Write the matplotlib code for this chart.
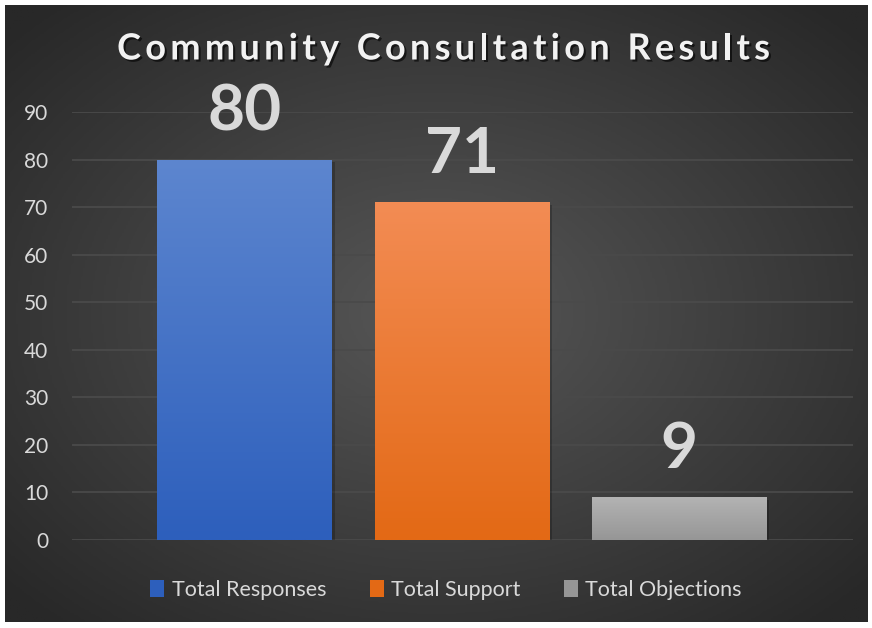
import numpy as np
import matplotlib
matplotlib.use("Agg")
import matplotlib.pyplot as plt
import matplotlib.patheffects as pe
from matplotlib.patches import Patch, Rectangle
from matplotlib.colors import LinearSegmentedColormap

categories = ["Total Responses", "Total Support", "Total Objections"]
values = [80, 71, 9]
y_ticks = [0, 10, 20, 30, 40, 50, 60, 70, 80, 90]
title = "Community Consultation Results"

# top colour, bottom colour for each bar
top_colors = ["#5d86cf", "#f38c54", "#b3b3b3"]
bottom_colors = ["#2d5fbc", "#e36915", "#969696"]

plt.rcParams['font.family'] = ['Lato', 'DejaVu Sans']

W, H = 872, 628
fig = plt.figure(figsize=(W/100, H/100), dpi=100, facecolor="white")

#-----background with radial gradient-----
bg = fig.add_axes([5/W, 6/H, 862/W, 617/H])
bg.set_axis_off()
yy, xx = np.mgrid[-1:1:300j, -1:1:400j]
r = np.sqrt(xx**2 + yy**2)
r = np.clip(r/1.35, 0, 1)
bg_cmap = LinearSegmentedColormap.from_list("bg", ["#575757", "#282828"])
bg.imshow(r, cmap=bg_cmap, aspect="auto", extent=(0, 1, 0, 1), vmin=0, vmax=1)
bg.set_xlim(0, 1)
bg.set_ylim(0, 1)

#-----main axes-----
ax = fig.add_axes([72/W, (H-540)/H, 781/W, 428/H])
ax.patch.set_alpha(0)
x = np.arange(len(categories))
width = 0.806
ax.set_xlim(-0.797, 2.802)
ax.set_ylim(0, 90)

bars = ax.bar(x, values, width=width, color="none", zorder=3)
grad = np.linspace(1, 0, 256).reshape(-1, 1)
for b, tc, bc in zip(bars, top_colors, bottom_colors):
    x0, y0 = b.get_x(), b.get_y()
    w, h = b.get_width(), b.get_height()
    # soft shadow
    ax.add_patch(Rectangle((x0 + 0.01, y0 - 0.5), w, h, facecolor="black",
                           alpha=0.22, zorder=2, edgecolor="none"))
    cmap = LinearSegmentedColormap.from_list("g", [bc, tc])
    im = ax.imshow(grad, cmap=cmap, aspect="auto", extent=(x0, x0 + w, y0, y0 + h),
                   zorder=3, vmin=0, vmax=1)
    im.set_clip_path(b)

for xi, v in zip(x, values):
    ax.annotate(str(v), (xi, v), xytext=(0, 14), textcoords="offset points",
                ha="center", va="bottom", fontsize=46, fontweight="bold",
                color="#d9d9d9", zorder=5)

ax.set_yticks(y_ticks)
ax.set_xticks([])
ax.tick_params(axis="y", length=0, labelsize=15, labelcolor="#d9d9d9", pad=17)
ax.grid(axis="y", color="#4a4a4a", linewidth=1.3, zorder=0)
for s in ax.spines.values():
    s.set_visible(False)

#-----title with letter spacing-----
fig.canvas.draw()
renderer = fig.canvas.get_renderer()
shadow = [pe.withSimplePatchShadow(offset=(1.5, -1.5), shadow_rgbFace="black", alpha=0.6)]
title_kw = dict(fontsize=26, fontweight="bold", color="#f2f2f2", va="center", ha="left")
spacing = 4.3
widths = []
for ch in title:
    t = fig.text(0, 0, ch if ch != " " else "n", **title_kw)
    wpx = t.get_window_extent(renderer).width
    if ch == " ":
        wpx *= 0.45
    widths.append(wpx)
    t.remove()
total = sum(widths) + spacing*(len(title) - 1)
xpos = 443.5 - total/2
for ch, wpx in zip(title, widths):
    if ch != " ":
        fig.text(xpos/W, 1 - 49/H, ch, path_effects=shadow, **title_kw)
    xpos += wpx + spacing

handles = [Patch(facecolor=c, edgecolor="none") for c in bottom_colors]
fig.legend(handles, categories, loc="center", bbox_to_anchor=(446/W, 1 - 590/H),
           ncol=3, frameon=False, fontsize=15.5, labelcolor="#d9d9d9",
           handlelength=0.65, handleheight=0.85, handletextpad=0.35, columnspacing=2.0)

fig.savefig("out.png", dpi=100, facecolor="white")
